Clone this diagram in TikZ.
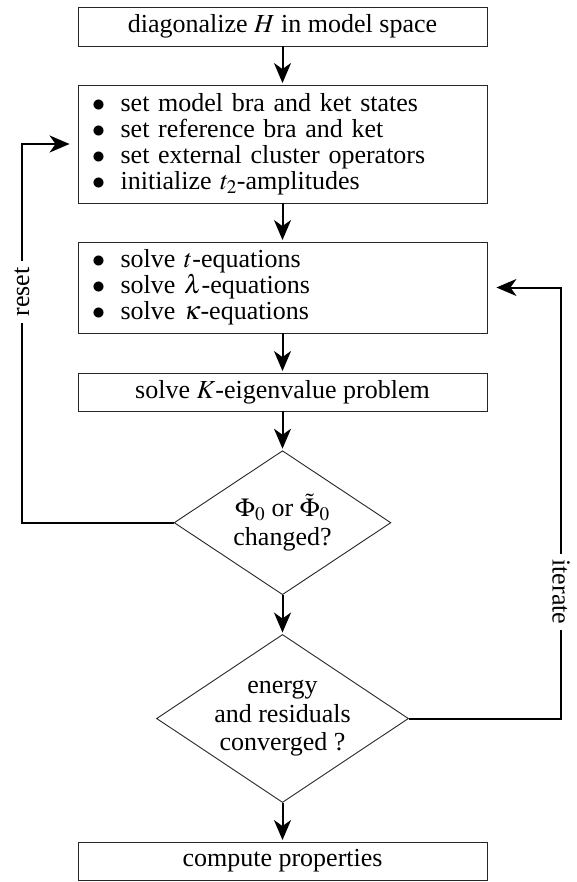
\documentclass[tikz,border=0pt]{standalone}
\usepackage{mathptmx}
\usepackage[no-math]{fontspec}
\setmainfont{Liberation Serif}
\usetikzlibrary{shapes.geometric,arrows.meta,calc}
\newcommand{\fsbody}{\fontsize{26}{28.5}\selectfont}
\newcommand{\fslist}{\fontsize{26}{26}\selectfont}
\newcommand{\bul}{\makebox[28.6pt][l]{$\bullet$}}
\begin{document}
\begin{tikzpicture}[x=1pt,y=-1pt,
  box/.style={draw=black!85, line width=0.9pt, minimum width=409pt, inner sep=0pt, font=\fsbody},
  listbox/.style={box, font=\fslist, align=left, text width=381pt, inner xsep=14pt},
  dia/.style={draw=black!85, diamond, line width=0.9pt, inner sep=0pt},
  dtext/.style={align=center, font=\fsbody, inner sep=0pt},
  conn/.style={line width=2pt, -{Stealth[length=20pt,width=17pt,inset=6pt]}, shorten >=1.5pt},
  lbl/.style={fill=white, inner xsep=6pt, inner ysep=2pt, font=\fsbody}]
\useasboundingbox (0,0) rectangle (576,882);

\node[box, minimum height=39pt] (b1) at (282.5,26.5) {diagonalize $H$ in model space};
\node[listbox, minimum height=118pt] (b2) at (282.5,144) {%
\bul set model bra and ket states\\
\bul set reference bra and ket\\
\bul set external cluster operators\\
\bul initialize $t_2$-amplitudes};
\node[listbox, minimum height=91pt] (b3) at (282.5,287.5) {%
\bul solve $t$-equations\\
\bul solve $\lambda$-equations\\
\bul solve $\kappa$-equations};
\node[box, minimum height=38pt] (b4) at (282.5,392) {solve $K$-eigenvalue problem};
\node[dia, minimum width=216.8pt, minimum height=144pt] (d1) at (282.5,522.7) {};
\node[dtext] (d1t) at (d1) {$\Phi_0$ or $\tilde{\Phi}_0$\\changed?};
\node[dia, minimum width=252pt, minimum height=168pt] (d2) at (282.5,718.5) {};
\node[dtext] (d2t) at (d2) {energy\\and residuals\\converged ?};
\node[box, minimum height=38pt] (b5) at (282.5,861) {compute properties};

\draw[conn] (b1) -- (b2);
\draw[conn] (b2) -- (b3);
\draw[conn] (b3) -- (b4);
\draw[conn] (b4) -- (d1);
\draw[conn] (d1) -- (d2);
\draw[conn] (d2) -- (b5);

\coordinate (rx) at (22,0);
\coordinate (ix) at (561,0);
\draw[conn, shorten >=8pt] (d1.west) -- (d1.west -| rx) |- (b2.west);
\draw[conn, shorten >=9pt] (d2.east) -- (d2.east -| ix) |- (b3.east);
\node[lbl, rotate=90] (rlab) at (22,292) {reset};
\node[lbl, rotate=-90] (ilab) at (561,592) {iterate};
\end{tikzpicture}
\end{document}
